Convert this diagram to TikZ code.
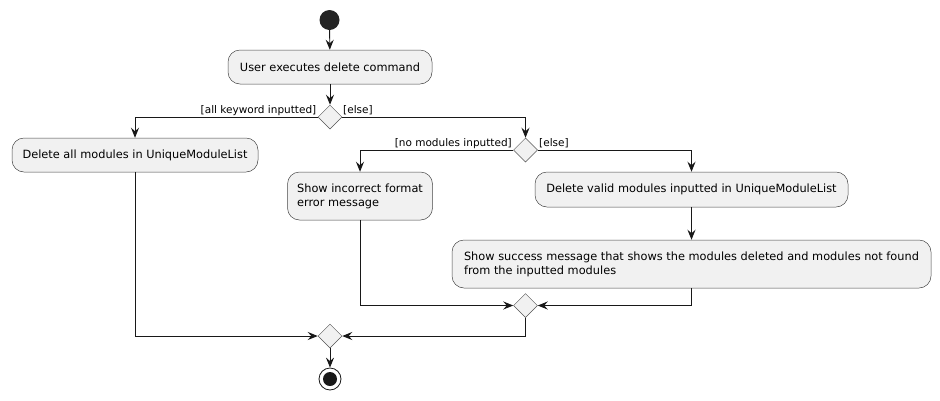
\documentclass[tikz,border=0pt]{standalone}
\usepackage{fontspec}
\setmainfont{DejaVu Sans}
\usetikzlibrary{shapes.geometric,arrows.meta}
\definecolor{boxfill}{HTML}{F1F1F1}
\definecolor{linec}{HTML}{181818}
\begin{document}
\begin{tikzpicture}[x=1pt,y=-1pt,
  act/.style={draw=linec!80,line width=0.5pt,fill=boxfill,rounded corners=12pt,inner xsep=8pt,inner ysep=0pt,font=\fontsize{11.35}{14}\selectfont},
  dec/.style={diamond,draw=linec!75,line width=0.5pt,fill=boxfill,minimum width=24pt,minimum height=24pt,inner sep=0pt},
  arr/.style={draw=linec,line width=0.9pt,-{Stealth[length=10pt,width=8pt,inset=3.5pt]}},
  lab/.style={font=\fontsize{10.5}{12}\selectfont,inner sep=0pt},
  ]
\useasboundingbox (0,0) rectangle (940,400);
\node[circle,fill=linec!95,minimum size=20pt,inner sep=0pt] (start) at (329.5,20) {};
\node[act,minimum width=204pt,minimum height=34pt] (u) at (330,67) {User executes delete command};
\node[dec] (d1) at (330,117) {};
\node[act,minimum width=246pt,minimum height=34pt] (all) at (135,155) {Delete all modules in UniqueModuleList};
\node[dec] (d2) at (525.5,150) {};
\node[act,align=left,minimum width=145pt,minimum height=48pt] (err) at (360,196) {Show incorrect format\\error message};
\node[act,minimum width=313pt,minimum height=35pt] (valid) at (691.5,189.5) {Delete valid modules inputted in UniqueModuleList};
\node[act,align=left,minimum width=479pt,minimum height=48pt] (succ) at (691.5,264) {Show success message that shows the modules deleted and modules not found\\from the inputted modules};
\node[dec] (d3) at (525.5,305.5) {};
\node[dec] (d4) at (330,336) {};
\node[circle,draw=linec,line width=0.8pt,fill=white,minimum size=22pt,inner sep=0pt] (end) at (330,379) {};
\node[circle,fill=linec,minimum size=14pt,inner sep=0pt] (endin) at (end.center) {};
\node[lab,anchor=east] (l1) at (316.5,110.5) {[all keyword inputted]};
\node[lab,anchor=west] (l2) at (343,110.5) {[else]};
\node[lab,anchor=east] (l3) at (512,143.5) {[no modules inputted]};
\node[lab,anchor=west] (l4) at (539,143.5) {[else]};
\draw[arr] (start) -- (u);
\draw[arr] (u) -- (d1);
\draw[arr] (d1.west) -| (all.north);
\draw[arr] (d1.east) -| (d2.north);
\draw[arr] (d2.west) -| (err.north);
\draw[arr] (d2.east) -| (valid.north);
\draw[arr] (valid) -- (succ);
\draw[arr] (err.south) |- (d3.west);
\draw[arr] (succ.south) |- (d3.east);
\draw[arr] (d3.south) |- (d4.east);
\draw[arr] (all.south) |- (d4.west);
\draw[arr] (d4) -- (end);
\end{tikzpicture}
\end{document}
